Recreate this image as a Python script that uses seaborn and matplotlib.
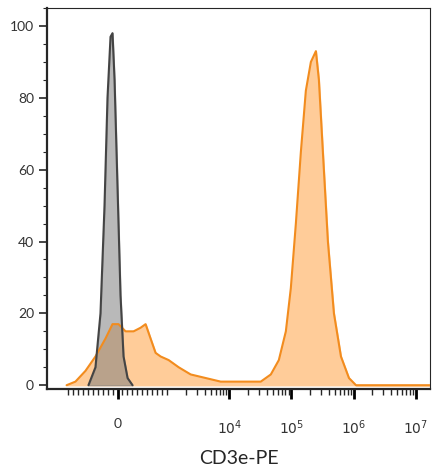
import matplotlib
matplotlib.use("Agg")
import matplotlib.pyplot as plt
import matplotlib.ticker as mt
import seaborn as sns
import numpy as np

sns.set_style("ticks")
plt.rcParams['font.family'] = ['Lato', 'DejaVu Sans']

ctrl_x = [-585, -444, -343, -262, -202, -141, -101, -60, 0, 60, 121, 202, 302]
ctrl_y = [0, 5, 20, 50, 80, 97, 98, 85, 55, 25, 8, 2, 0]

samp_x = [-1048, -847, -645, -444, -242, -101, 20, 161, 323, 464, 565, 665, 766, 867,
          1054, 1528, 2384, 4159, 7261, 15280, 32060, 46560, 62660, 81280, 97720,
          117800, 141900, 170600, 205600, 247700, 276700, 320600, 386400, 483100,
          626600, 843300, 1094000, 2750000, 17000000]
samp_y = [0, 1, 4, 8, 13, 17, 17, 15, 15, 16, 17, 13, 9, 8, 7, 5, 3, 2, 1, 1, 1, 3, 7,
          15, 27, 45, 65, 82, 90, 93, 85, 65, 40, 20, 8, 2, 0, 0, 0]

fig, ax = plt.subplots(figsize=(4.41, 4.73), dpi=100)
fig.subplots_adjust(left=0.107, right=0.975, top=0.983, bottom=0.178)

ax.fill_between(samp_x, samp_y, color="#ffcc99", alpha=1.0, zorder=1)
ax.fill_between(ctrl_x, ctrl_y, color="#808080", alpha=0.55, zorder=2)
sns.lineplot(x=samp_x, y=samp_y, ax=ax, color="#f28c1e", lw=1.5, sort=False, zorder=3)
sns.lineplot(x=ctrl_x, y=ctrl_y, ax=ax, color="#444444", lw=1.5, sort=False, zorder=4)

ax.set_xscale("symlog", linthresh=1000, linscale=0.72)
ax.set_xlim(-2150, 1.7e7)
ax.set_ylim(-1, 105)
ax.set_xticks([0, 1e4, 1e5, 1e6, 1e7])
ax.set_xticklabels(["0", "$10^4$", "$10^5$", "$10^6$", "$10^7$"])
minors = [-1000] + list(np.arange(-900, 1000, 100)) + [1000] + \
    [m * 10**e for e in (3, 4, 5, 6) for m in range(2, 10)]
ax.xaxis.set_minor_locator(mt.FixedLocator(minors))
ax.set_yticks([0, 20, 40, 60, 80, 100])
ax.yaxis.set_minor_locator(mt.MultipleLocator(5))
ax.tick_params(axis="x", which="major", length=7, width=2, labelsize=10, pad=14, colors="black", labelcolor="#333333")
ax.tick_params(axis="x", which="minor", length=4, width=1)
ax.tick_params(axis="y", which="major", length=6, width=1.2, labelsize=10, labelcolor="#333333")
ax.tick_params(axis="y", which="minor", length=3, width=0.8)
for s in ["left", "bottom"]:
    ax.spines[s].set_linewidth(1.6)
for s in ["top", "right"]:
    ax.spines[s].set_linewidth(0.8)
ax.set_xlabel("CD3e-PE", fontsize=14, labelpad=10)
ax.set_ylabel("")
fig.savefig("out.png", dpi=100)
